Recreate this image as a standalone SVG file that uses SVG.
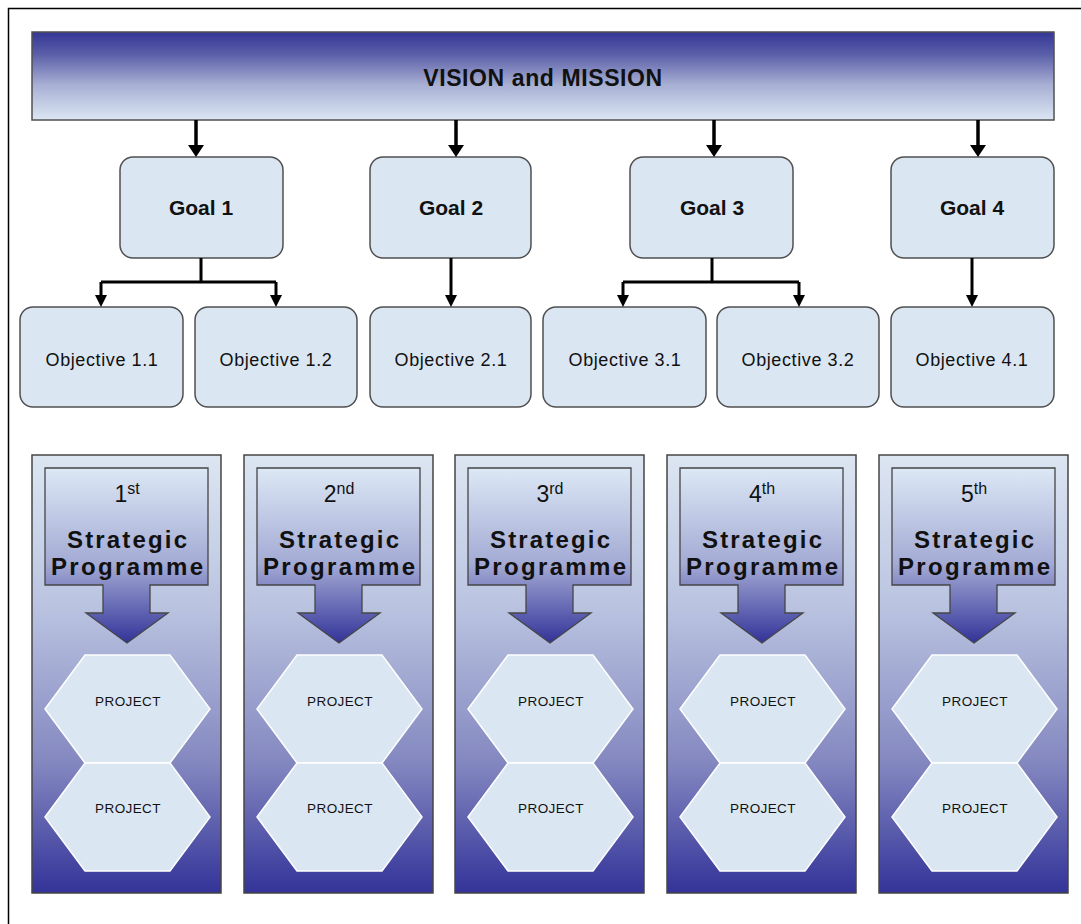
<svg xmlns="http://www.w3.org/2000/svg" width="1081" height="924" viewBox="0 0 1081 924">
  <defs>
    <linearGradient id="gVision" x1="0" y1="0" x2="0" y2="1">
      <stop offset="0" stop-color="#343696"/>
      <stop offset="0.25" stop-color="#5a5ea8"/>
      <stop offset="0.6" stop-color="#a7afd3"/>
      <stop offset="1" stop-color="#dce6f3"/>
    </linearGradient>
    <linearGradient id="gCol" x1="0" y1="0" x2="0" y2="1">
      <stop offset="0" stop-color="#dce6f2"/>
      <stop offset="0.35" stop-color="#b9c3e0"/>
      <stop offset="0.7" stop-color="#8488c0"/>
      <stop offset="1" stop-color="#333399"/>
    </linearGradient>
    <linearGradient id="gCall" x1="0" y1="0" x2="0" y2="1">
      <stop offset="0" stop-color="#dce8f5"/>
      <stop offset="0.55" stop-color="#a3aad4"/>
      <stop offset="1" stop-color="#333399"/>
    </linearGradient>
    <marker id="ahBig" viewBox="0 -8 12 16" refX="0" refY="0" markerWidth="12" markerHeight="16" markerUnits="userSpaceOnUse" orient="auto">
      <path d="M0,-8 L12,0 L0,8 Z" fill="#000"/>
    </marker>
    <marker id="ahSmall" viewBox="0 -6 12 12" refX="0" refY="0" markerWidth="12" markerHeight="12" markerUnits="userSpaceOnUse" orient="auto">
      <path d="M0,-6 L12,0 L0,6 Z" fill="#000"/>
    </marker>
  </defs>
  <style>
    .box { fill: #dbe6f3; stroke: #505050; stroke-width: 1.5; }
    .col { fill: url(#gCol); stroke: #454545; stroke-width: 1.5; }
    .call { fill: url(#gCall); stroke: #454545; stroke-width: 1.3; }
    .hex { fill: #dbe6f3; stroke: #ffffff; stroke-width: 1.5; }
    .conn { fill: none; stroke: #000; stroke-width: 3; }
    .big { stroke-width: 3.5; marker-end: url(#ahBig); }
    .small { marker-end: url(#ahSmall); }
    .tGoal { font-family: "Liberation Sans", Arial, sans-serif; font-weight: bold; font-size: 21px; fill: #111; text-anchor: middle; }
    .tObj { font-family: "Liberation Sans", Arial, sans-serif; font-size: 18px; letter-spacing: 0.6px; fill: #111; text-anchor: middle; }
    .tVis { font-family: "Liberation Sans", Arial, sans-serif; font-weight: bold; font-size: 23px; letter-spacing: 0.6px; fill: #111; text-anchor: middle; }
    .tNum { font-family: "Liberation Sans", Arial, sans-serif; font-size: 23px; fill: #111; text-anchor: middle; }
    .tSup { font-size: 16px; }
    .tProg { font-family: "Liberation Sans", Arial, sans-serif; font-weight: bold; font-size: 24px; fill: #111; text-anchor: middle; }
    .tProj { font-family: "Liberation Sans", Arial, sans-serif; font-size: 13.5px; letter-spacing: 0.4px; fill: #111; text-anchor: middle; }
  </style>

  <rect x="0" y="0" width="1081" height="924" fill="#ffffff"/>
  <rect x="8.5" y="8.5" width="1100" height="1000" fill="none" stroke="#000" stroke-width="1.5"/>

  <g id="vision">
    <rect x="32" y="32" width="1022" height="88" fill="url(#gVision)" stroke="#505050" stroke-width="1.5"/>
    <text class="tVis" x="543" y="86">VISION and MISSION</text>
  </g>

  <g id="goal1"><rect class="box" x="120" y="157" width="163" height="101" rx="13"/><text class="tGoal" x="201" y="215">Goal 1</text></g>
  <g id="goal2"><rect class="box" x="370" y="157" width="161" height="101" rx="13"/><text class="tGoal" x="451" y="215">Goal 2</text></g>
  <g id="goal3"><rect class="box" x="630" y="157" width="163" height="101" rx="13"/><text class="tGoal" x="712" y="215">Goal 3</text></g>
  <g id="goal4"><rect class="box" x="891" y="157" width="163" height="101" rx="13"/><text class="tGoal" x="972" y="215">Goal 4</text></g>

  <g id="obj11"><rect class="box" x="20" y="307" width="163" height="100" rx="13"/><text class="tObj" x="102" y="366">Objective 1.1</text></g>
  <g id="obj12"><rect class="box" x="195" y="307" width="162" height="100" rx="13"/><text class="tObj" x="276" y="366">Objective 1.2</text></g>
  <g id="obj21"><rect class="box" x="370" y="307" width="161" height="100" rx="13"/><text class="tObj" x="451" y="366">Objective 2.1</text></g>
  <g id="obj31"><rect class="box" x="543" y="307" width="163" height="100" rx="13"/><text class="tObj" x="625" y="366">Objective 3.1</text></g>
  <g id="obj32"><rect class="box" x="717" y="307" width="162" height="100" rx="13"/><text class="tObj" x="798" y="366">Objective 3.2</text></g>
  <g id="obj41"><rect class="box" x="891" y="307" width="163" height="100" rx="13"/><text class="tObj" x="972" y="366">Objective 4.1</text></g>

  <g id="connectors">
    <path class="conn big" d="M196,120 V145"/>
    <path class="conn big" d="M456,120 V145"/>
    <path class="conn big" d="M714,120 V145"/>
    <path class="conn big" d="M978,120 V145"/>
    <path class="conn" d="M201,258 V282 M101,282 H276 M712,258 V282 M623,282 H799"/>
    <path class="conn small" d="M101,282 V295"/>
    <path class="conn small" d="M276,282 V295"/>
    <path class="conn small" d="M451,258 V295"/>
    <path class="conn small" d="M623,282 V295"/>
    <path class="conn small" d="M799,282 V295"/>
    <path class="conn small" d="M972,258 V295"/>
  </g>

  <g id="programme1" transform="translate(32,0)">
    <rect class="col" x="0" y="455" width="189" height="438"/>
    <path class="call" d="M13,468 H176 V585 H118 V613 H136 L95,643 L54,613 H71 V585 H13 Z"/>
    <text class="tNum" x="95" y="502">1<tspan class="tSup" dy="-8">st</tspan></text>
    <text class="tProg" x="95" y="548" textLength="120">Strategic</text>
    <text class="tProg" x="95" y="575" textLength="152">Programme</text>
    <polygon class="hex" points="13,709 53,655 138,655 178,709 138,763 53,763"/>
    <polygon class="hex" points="13,817 53,763 138,763 178,817 138,871 53,871"/>
    <text class="tProj" x="96" y="706">PROJECT</text>
    <text class="tProj" x="96" y="813">PROJECT</text>
  </g>
  <g id="programme2" transform="translate(244,0)">
    <rect class="col" x="0" y="455" width="189" height="438"/>
    <path class="call" d="M13,468 H176 V585 H118 V613 H136 L95,643 L54,613 H71 V585 H13 Z"/>
    <text class="tNum" x="95" y="502">2<tspan class="tSup" dy="-8">nd</tspan></text>
    <text class="tProg" x="95" y="548" textLength="120">Strategic</text>
    <text class="tProg" x="95" y="575" textLength="152">Programme</text>
    <polygon class="hex" points="13,709 53,655 138,655 178,709 138,763 53,763"/>
    <polygon class="hex" points="13,817 53,763 138,763 178,817 138,871 53,871"/>
    <text class="tProj" x="96" y="706">PROJECT</text>
    <text class="tProj" x="96" y="813">PROJECT</text>
  </g>
  <g id="programme3" transform="translate(455,0)">
    <rect class="col" x="0" y="455" width="189" height="438"/>
    <path class="call" d="M13,468 H176 V585 H118 V613 H136 L95,643 L54,613 H71 V585 H13 Z"/>
    <text class="tNum" x="95" y="502">3<tspan class="tSup" dy="-8">rd</tspan></text>
    <text class="tProg" x="95" y="548" textLength="120">Strategic</text>
    <text class="tProg" x="95" y="575" textLength="152">Programme</text>
    <polygon class="hex" points="13,709 53,655 138,655 178,709 138,763 53,763"/>
    <polygon class="hex" points="13,817 53,763 138,763 178,817 138,871 53,871"/>
    <text class="tProj" x="96" y="706">PROJECT</text>
    <text class="tProj" x="96" y="813">PROJECT</text>
  </g>
  <g id="programme4" transform="translate(667,0)">
    <rect class="col" x="0" y="455" width="189" height="438"/>
    <path class="call" d="M13,468 H176 V585 H118 V613 H136 L95,643 L54,613 H71 V585 H13 Z"/>
    <text class="tNum" x="95" y="502">4<tspan class="tSup" dy="-8">th</tspan></text>
    <text class="tProg" x="95" y="548" textLength="120">Strategic</text>
    <text class="tProg" x="95" y="575" textLength="152">Programme</text>
    <polygon class="hex" points="13,709 53,655 138,655 178,709 138,763 53,763"/>
    <polygon class="hex" points="13,817 53,763 138,763 178,817 138,871 53,871"/>
    <text class="tProj" x="96" y="706">PROJECT</text>
    <text class="tProj" x="96" y="813">PROJECT</text>
  </g>
  <g id="programme5" transform="translate(879,0)">
    <rect class="col" x="0" y="455" width="189" height="438"/>
    <path class="call" d="M13,468 H176 V585 H118 V613 H136 L95,643 L54,613 H71 V585 H13 Z"/>
    <text class="tNum" x="95" y="502">5<tspan class="tSup" dy="-8">th</tspan></text>
    <text class="tProg" x="95" y="548" textLength="120">Strategic</text>
    <text class="tProg" x="95" y="575" textLength="152">Programme</text>
    <polygon class="hex" points="13,709 53,655 138,655 178,709 138,763 53,763"/>
    <polygon class="hex" points="13,817 53,763 138,763 178,817 138,871 53,871"/>
    <text class="tProj" x="96" y="706">PROJECT</text>
    <text class="tProj" x="96" y="813">PROJECT</text>
  </g>
</svg>
